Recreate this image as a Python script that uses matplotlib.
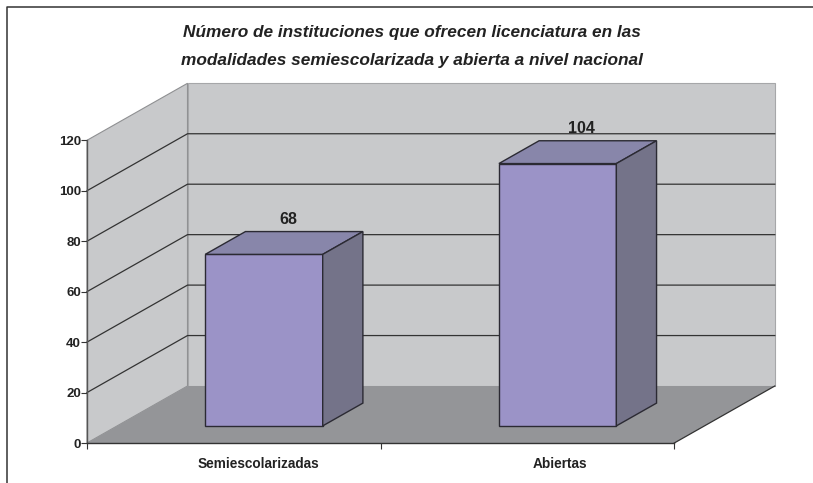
# -*- coding: utf-8 -*-
import matplotlib
matplotlib.use('Agg')
import matplotlib.pyplot as plt
from matplotlib.lines import Line2D
from matplotlib.patches import Polygon

categories = ['Semiescolarizadas', 'Abiertas']
values = [68, 104]
y_ticks = [0, 20, 40, 60, 80, 100, 120]
title = ('Número de instituciones que ofrecen licenciatura en las\n'
         'modalidades semiescolarizada y abierta a nivel nacional')

W, H = 813, 483
# pixel box of the front plane
LEFT, RIGHT, BOTTOM, TOP = 87, 674.3, 443, 140.3
# how far the back wall is pushed, in data units (x cats, y values)
DX = 100.5 / (RIGHT - LEFT) * 2
DY = 57 / (BOTTOM - TOP) * 120
BAR_W = 0.4
D0, D1 = 0.3, 0.7
LABEL_D = 0.54  # the value labels sit a bit past the middle of the bar top
CAT_SHIFT = [0.082, 0.111]  # category labels are not centred under the ticks

WALL = '#c8c9cb'
FLOOR = '#949598'
BAR_FRONT = '#9b93c7'
BAR_TOP = '#8886aa'
BAR_SIDE = '#747389'
GRID = '#333333'
FONT = 'Liberation Sans'


def pr(x, y, d=0.0):
    # oblique projection, depth d runs from 0 (front) to 1 (back wall)
    return (x + DX * d, y + DY * d)


def poly(ax, pts, fc, ec='none', lw=0.0, z=1):
    ax.add_patch(Polygon(pts, closed=True, fc=fc, ec=ec, lw=lw, zorder=z, clip_on=False,
                         joinstyle='miter'))


fig = plt.figure(figsize=(W / 100, H / 100), dpi=100)
# outer frame only shows on the top and the left
fig.add_artist(Line2D([7 / W, 7 / W, 1], [0, 1 - 6.5 / H, 1 - 6.5 / H], color='#333333', lw=1.1))

ax = fig.add_axes([LEFT / W, 1 - BOTTOM / H, (RIGHT - LEFT) / W, (BOTTOM - TOP) / H])
ax.patch.set_visible(False)
ax.set_xlim(0, 2)
ax.set_ylim(0, 120)

xmax = len(categories)
ymax = y_ticks[-1]

# walls and floor
poly(ax, [pr(0, 0, 0), pr(0, ymax, 0), pr(0, ymax, 1), pr(0, 0, 1)], WALL, '#8f9092', 0.8)
poly(ax, [pr(0, 0, 1), pr(0, ymax, 1), pr(xmax, ymax, 1), pr(xmax, 0, 1)], WALL, '#a6a7a9', 0.8)
poly(ax, [pr(0, 0, 0), pr(xmax, 0, 0), pr(xmax, 0, 1), pr(0, 0, 1)], FLOOR)
ax.plot(*zip(pr(xmax, 0, 0), pr(xmax, 0, 1)), color=GRID, lw=0.9, zorder=2, clip_on=False)

# gridlines on side wall and back wall
for t in y_ticks[1:-1]:
    ax.plot(*zip(pr(0, t, 0), pr(0, t, 1), pr(xmax, t, 1)), color=GRID, lw=0.9, zorder=2, clip_on=False)

# bars
for i, v in enumerate(values):
    x0 = i + 0.5 - BAR_W / 2
    x1 = i + 0.5 + BAR_W / 2
    poly(ax, [pr(x0, 0, D0), pr(x1, 0, D0), pr(x1, v, D0), pr(x0, v, D0)], BAR_FRONT, '#2b2a33', 1.0, 3)
    poly(ax, [pr(x0, v, D0), pr(x1, v, D0), pr(x1, v, D1), pr(x0, v, D1)], BAR_TOP, '#2b2a33', 1.0, 3)
    poly(ax, [pr(x1, 0, D0), pr(x1, 0, D1), pr(x1, v, D1), pr(x1, v, D0)], BAR_SIDE, '#2b2a33', 1.0, 3)
    lx = pr(i + 0.5, v, LABEL_D)[0]
    ly = pr(i + 0.5, v, D1)[1]
    ax.annotate(str(v), (lx, ly), xytext=(0, 9), textcoords='offset points', ha='center', va='center',
                fontsize=11.5, fontweight='bold', family=FONT, color='#222222', zorder=4)

# axes
for s in ['top', 'right']:
    ax.spines[s].set_visible(False)
ax.spines['left'].set_color('#555555')
ax.spines['left'].set_linewidth(1.0)
ax.spines['bottom'].set_color('#333333')
ax.spines['bottom'].set_linewidth(1.0)
for s in ax.spines.values():
    s.set_zorder(5)

ax.set_yticks(y_ticks)
ax.set_yticklabels([str(t) for t in y_ticks], fontsize=9.5, fontweight='bold', family=FONT, color='#222222')
ax.tick_params(axis='y', length=4, width=0.8, color='#333333', pad=0.5)
ax.set_xticks(range(xmax + 1))
ax.set_xticklabels([])
ax.tick_params(axis='x', length=4, width=0.8, color='#333333')
ax.set_xticks([i + 0.5 + CAT_SHIFT[i] for i in range(xmax)], minor=True)
ax.set_xticklabels(categories, minor=True, fontsize=9.8, fontweight='bold', family=FONT, color='#222222')
ax.tick_params(axis='x', which='minor', length=0, pad=10)

fig.text(411.5 / W, 1 - 46.5 / H, title, ha='center', va='center', fontsize=12.4, fontweight='bold', style='italic',
         family=FONT, color='#222222', linespacing=2.0)

fig.savefig('out.png', dpi=100)
